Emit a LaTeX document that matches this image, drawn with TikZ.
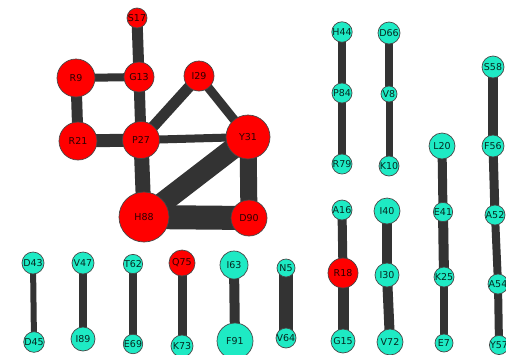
\documentclass[tikz,border=0pt]{standalone}
\usepackage{fontspec}
\setmainfont{DejaVu Sans}
\usetikzlibrary{backgrounds}
\definecolor{nred}{RGB}{255,0,0}
\definecolor{ncyan}{RGB}{30,234,196}
\definecolor{edgec}{RGB}{51,51,51}
\tikzset{
  vtx/.style={circle, draw=edgec!90, line width=0.7pt, inner sep=0pt, font=\fontsize{9.5}{10}\selectfont},
  rv/.style={vtx, fill=nred, text={rgb,255:red,45;green,0;blue,0}},
  cv/.style={vtx, fill=ncyan, text={rgb,255:red,5;green,40;blue,32}},
  lnk/.style={draw=edgec, line cap=butt},
}
\begin{document}
\begin{tikzpicture}[x=1pt,y=-1pt]
\useasboundingbox (0,0) rectangle (506,354);
% red cluster
\node[rv, minimum size=20pt] (S17) at (137,18) {S17};
\node[rv, minimum size=38pt] (R9) at (76,78) {R9};
\node[rv, minimum size=30pt] (G13) at (139,77) {G13};
\node[rv, minimum size=30pt] (I29) at (199,76) {I29};
\node[rv, minimum size=38pt] (R21) at (78,141) {R21};
\node[rv, minimum size=37pt] (P27) at (141,140) {P27};
\node[rv, minimum size=44pt] (Y31) at (248,137) {Y31};
\node[rv, minimum size=50pt] (H88) at (144,217) {H88};
\node[rv, minimum size=36pt] (D90) at (249,218) {D90};
% column H44
\node[cv, minimum size=18pt] (H44) at (342,32) {H44};
\node[cv, minimum size=20pt] (P84) at (342,93) {P84};
\node[cv, minimum size=20pt] (R79) at (342,164) {R79};
% column D66
\node[cv, minimum size=22pt] (D66) at (389,33) {D66};
\node[cv, minimum size=16pt] (V8) at (389,94) {V8};
\node[cv, minimum size=20pt] (K10) at (389,166) {K10};
% L20 column
\node[cv, minimum size=26pt] (L20) at (442,146) {L20};
\node[cv, minimum size=18pt] (E41) at (443,212) {E41};
\node[cv, minimum size=20pt] (K25) at (444,277) {K25};
\node[cv, minimum size=18pt] (E7) at (444,343) {E7};
% S58 column
\node[cv, minimum size=22pt] (S58) at (493,67) {S58};
\node[cv, minimum size=22pt] (F56) at (493,146) {F56};
\node[cv, minimum size=20pt] (A52) at (495,215) {A52};
\node[cv, minimum size=20pt] (A54) at (498,284) {A54};
\node[cv, minimum size=18pt] (Y57) at (499,345) {Y57};
% A16 column
\node[cv, minimum size=20pt] (A16) at (342,210) {A16};
\node[rv, minimum size=30pt] (R18) at (343,273) {R18};
\node[cv, minimum size=24pt] (G15) at (343,341) {G15};
% I40 column
\node[cv, minimum size=26pt] (I40) at (387,211) {I40};
\node[cv, minimum size=24pt] (I30) at (387,275) {I30};
\node[cv, minimum size=26pt] (V72) at (390,342) {V72};
% bottom pairs
\node[cv, minimum size=22pt] (D43) at (33,263) {D43};
\node[cv, minimum size=20pt] (D45) at (34,342) {D45};
\node[cv, minimum size=22pt] (V47) at (83,263) {V47};
\node[cv, minimum size=24pt] (I89) at (83,339) {I89};
\node[cv, minimum size=18pt] (T62) at (133,264) {T62};
\node[cv, minimum size=18pt] (E69) at (133,344) {E69};
\node[rv, minimum size=26pt] (Q75) at (182,263) {Q75};
\node[cv, minimum size=22pt] (K73) at (182,346) {K73};
\node[cv, minimum size=28pt] (I63) at (234,265) {I63};
\node[cv, minimum size=36pt] (F91) at (235,341) {F91};
\node[cv, minimum size=18pt] (N5) at (286,268) {N5};
\node[cv, minimum size=20pt] (V64) at (286,338) {V64};
\begin{scope}[on background layer]
\draw[lnk, line width=11pt] (S17.center) -- (G13.center);
\draw[lnk, line width=8pt] (R9.center) -- (G13.center);
\draw[lnk, line width=11pt] (R9.center) -- (R21.center);
\draw[lnk, line width=11pt] (G13.center) -- (P27.center);
\draw[lnk, line width=13pt] (R21.center) -- (P27.center);
\draw[lnk, line width=11pt] (P27.center) -- (I29.center);
\draw[lnk, line width=9pt] (I29.center) -- (Y31.center);
\draw[lnk, line width=8pt] (P27.center) -- (Y31.center);
\draw[lnk, line width=15pt] (P27.center) -- (H88.center);
\draw[lnk, line width=21pt] (Y31.center) -- (H88.center);
\draw[lnk, line width=24pt] (H88.center) -- (D90.center);
\draw[lnk, line width=17pt] (Y31.center) -- (D90.center);
\draw[lnk, line width=8pt] (H44.center) -- (P84.center);
\draw[lnk, line width=8pt] (P84.center) -- (R79.center);
\draw[lnk, line width=8pt] (D66.center) -- (V8.center);
\draw[lnk, line width=7pt] (V8.center) -- (K10.center);
\draw[lnk, line width=9pt] (L20.center) -- (E41.center);
\draw[lnk, line width=10pt] (E41.center) -- (K25.center);
\draw[lnk, line width=8pt] (K25.center) -- (E7.center);
\draw[lnk, line width=10pt] (S58.center) -- (F56.center);
\draw[lnk, line width=9pt] (F56.center) -- (A52.center);
\draw[lnk, line width=8pt] (A52.center) -- (A54.center);
\draw[lnk, line width=8pt] (A54.center) -- (Y57.center);
\draw[lnk, line width=9pt] (A16.center) -- (R18.center);
\draw[lnk, line width=11pt] (R18.center) -- (G15.center);
\draw[lnk, line width=10pt] (I40.center) -- (I30.center);
\draw[lnk, line width=10pt] (I30.center) -- (V72.center);
\draw[lnk, line width=6pt] (D43.center) -- (D45.center);
\draw[lnk, line width=8pt] (V47.center) -- (I89.center);
\draw[lnk, line width=8pt] (T62.center) -- (E69.center);
\draw[lnk, line width=9pt] (Q75.center) -- (K73.center);
\draw[lnk, line width=10pt] (I63.center) -- (F91.center);
\draw[lnk, line width=14pt] (N5.center) -- (V64.center);
\end{scope}
\end{tikzpicture}
\end{document}
